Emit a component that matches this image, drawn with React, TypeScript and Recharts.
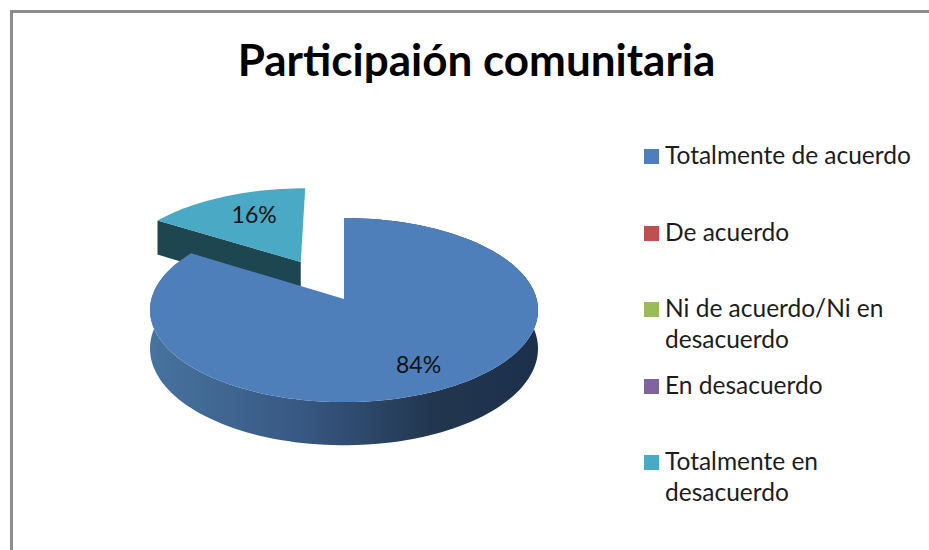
import React from 'react';
import { PieChart, Pie, Legend } from 'recharts';

const title = 'Participaión comunitaria';
const categories = [
  'Totalmente de acuerdo',
  'De acuerdo',
  'Ni de acuerdo/Ni en desacuerdo',
  'En desacuerdo',
  'Totalmente en desacuerdo',
];
const shares = [84, 0, 0, 0, 16];
const explodedCategory = 'Totalmente en desacuerdo';
const colors = ['#4F7FBB', '#C0504D', '#9BBB59', '#8064A2', '#4AA9C4'];

// reversed so the teal slice is painted first and the big one overlaps it
const pieData = categories.map((name, i) => ({ name, value: shares[i] })).reverse();

// fake 3D: unit disc seen in perspective
const TILT = 0.471;
const PERSPECTIVE = 0.12;
const DEPTH = 38;
const EXPLODE = 0.49;
const FONT = 'Lato, sans-serif';

const rad = (deg: number) => (deg * Math.PI) / 180;

const project = (cx: number, cy: number, r: number, u: number, v: number, z = 0) => {
  const den = 1 + PERSPECTIVE * v;
  return [cx + (r * u) / den, cy + (-r * TILT * v + DEPTH * z) / den];
};

const toPath = (pts: number[][]) =>
  'M' + pts.map((p) => `${p[0].toFixed(2)},${p[1].toFixed(2)}`).join('L') + 'Z';

const Slice3D = (props: any) => {
  const { cx, cy, outerRadius: r, startAngle, endAngle, name, value } = props;
  if (!value) return null;
  const mid = rad((startAngle + endAngle) / 2);
  const e = name === explodedCategory ? EXPLODE : 0;
  const ox = e * Math.cos(mid);
  const oy = e * Math.sin(mid);
  const arc = (z: number) => {
    const pts: number[][] = [];
    const steps = Math.ceil((endAngle - startAngle) / 2);
    for (let i = 0; i <= steps; i++) {
      const a = rad(startAngle + ((endAngle - startAngle) * i) / steps);
      pts.push(project(cx, cy, r, ox + Math.cos(a), oy + Math.sin(a), z));
    }
    return pts;
  };
  const top = arc(0);
  const apex = project(cx, cy, r, ox, oy);
  const apexLow = project(cx, cy, r, ox, oy, 1);
  const fill = colors[categories.indexOf(name)];

  if (e > 0) {
    const corner = top[top.length - 1];
    const cornerLow = arc(1)[top.length - 1];
    return (
      <g>
        <path d={toPath([apex, corner, cornerLow, apexLow])} fill="#1E4650" />
        <path d={toPath([apex, ...top])} fill={fill} />
      </g>
    );
  }
  return (
    <g>
      <path d={toPath([...top, ...arc(1).reverse()])} fill="url(#rimShade)" />
      <path d={toPath([apex, ...top])} fill={fill} />
    </g>
  );
};

const sliceLabel = (props: any) => {
  const { cx, cy, outerRadius: r, midAngle, name, value } = props;
  if (!value) return null;
  const exploded = name === explodedCategory;
  const dist = exploded ? 1.2 : 0.75;
  const [x, y] = project(cx, cy, r, dist * Math.cos(rad(midAngle)), dist * Math.sin(rad(midAngle)));
  return (
    <text
      x={exploded ? x + 9 : x - 1}
      y={y}
      textAnchor="middle"
      dominantBaseline="central"
      fontFamily={FONT}
      fontSize={23}
      fill="#111"
    >
      {value}%
    </text>
  );
};

const LegendList = () => (
  <div style={{ fontFamily: FONT, fontSize: 24.5, lineHeight: '30.5px', color: '#1d1d1d' }}>
    {categories.map((name, i) => (
      <div key={name} style={{ display: 'flex', height: 76.5 }}>
        <span
          style={{
            width: 15,
            height: 15,
            marginTop: 9,
            marginRight: 6,
            flexShrink: 0,
            background: colors[i],
          }}
        />
        <span style={{ width: 255 }}>{name}</span>
      </div>
    ))}
  </div>
);

export default function App() {
  return (
    <div style={{ position: 'absolute', left: 0, top: 0, width: 929, height: 550, overflow: 'hidden', background: '#fff' }}>
      <div
        style={{
          position: 'absolute',
          left: 10,
          top: 10,
          width: 930,
          height: 560,
          borderTop: '3px solid #8c8c8c',
          borderLeft: '3px solid #8c8c8c',
        }}
      />
      <div
        style={{
          position: 'absolute',
          left: 0,
          width: 953,
          top: 32,
          textAlign: 'center',
          fontFamily: FONT,
          fontWeight: 700,
          fontSize: 44,
          lineHeight: '54px',
          color: '#000',
        }}
      >
        {title}
      </div>
      <div style={{ position: 'absolute', left: 0, top: 0 }}>
        <PieChart width={929} height={550} margin={{ top: 0, right: 0, bottom: 0, left: 0 }}>
          <defs>
            <linearGradient id="rimShade" gradientUnits="userSpaceOnUse" x1={151} y1={0} x2={539} y2={0}>
              <stop offset="0" stopColor="#47739F" />
              <stop offset="0.4" stopColor="#375781" />
              <stop offset="0.72" stopColor="#22374F" />
              <stop offset="1" stopColor="#1C2F4B" />
            </linearGradient>
          </defs>
          <Pie
            data={pieData}
            dataKey="value"
            nameKey="name"
            cx={344}
            cy={299}
            outerRadius={192.6}
            startAngle={90}
            endAngle={450}
            stroke="none"
            shape={Slice3D}
            activeShape={Slice3D}
            label={sliceLabel}
            labelLine={false}
            isAnimationActive={false}
          />
          <Legend
            content={LegendList}
            wrapperStyle={{ position: 'absolute', left: 644, top: 140, width: 285, bottom: 'auto', right: 'auto' }}
          />
        </PieChart>
      </div>
    </div>
  );
}
